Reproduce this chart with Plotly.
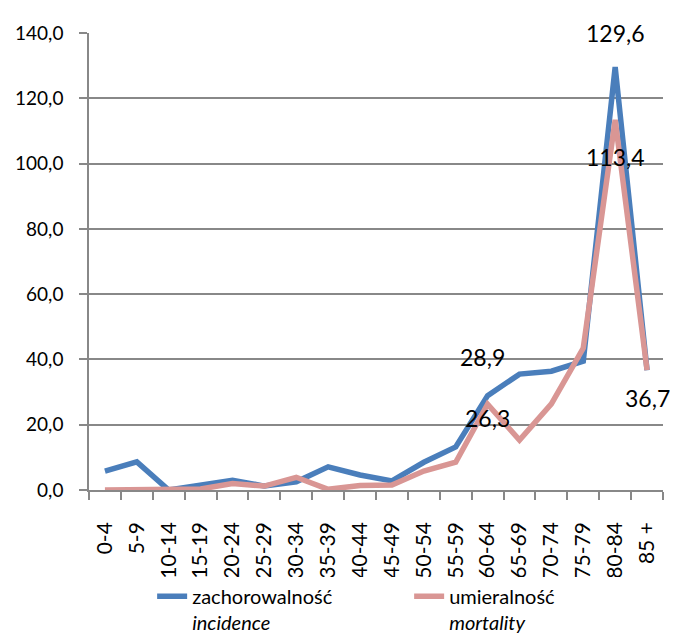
import plotly.graph_objects as go

categories = ["0-4", "5-9", "10-14", "15-19", "20-24", "25-29", "30-34", "35-39",
              "40-44", "45-49", "50-54", "55-59", "60-64", "65-69", "70-74",
              "75-79", "80-84", "85 +"]
incidence = [5.8, 8.6, 0.0, 1.3, 3.0, 1.2, 2.5, 7.1, 4.6, 2.8, 8.5, 13.2,
             28.9, 35.5, 36.4, 39.5, 129.6, 36.7]
mortality = [0.0, 0.0, 0.0, 0.3, 2.0, 1.2, 3.9, 0.2, 1.4, 1.5, 5.8, 8.5,
             26.3, 15.3, 26.4, 43.5, 113.4, 36.7]
name_inc = "zachorowalność<br><i>incidence</i>"
name_mor = "umieralność<br><i>mortality</i>"
y_ticks = [0, 20, 40, 60, 80, 100, 120, 140]

# labelled points: (series values, category index, yshift, xshift)
labels = [
    (incidence, 16, 34, 0),
    (incidence, 12, 39, -5),
    (mortality, 16, -37, 0),
    (mortality, 12, -14, 0),
    (mortality, 17, -28, 0),
]

FONT = "Lato, Carlito, Calibri, sans-serif"
BLUE = "#4A7EBB"
PINK = "#D99694"

fig = go.Figure()
fig.add_trace(go.Scatter(x=categories, y=incidence, mode="lines", name=name_inc,
                         line=dict(color=BLUE, width=5.5)))
fig.add_trace(go.Scatter(x=categories, y=mortality, mode="lines", name=name_mor,
                         line=dict(color=PINK, width=5.5)))

for series, i, ys, xs in labels:
    fig.add_annotation(x=categories[i], y=series[i],
                       text=f"{series[i]:.1f}".replace(".", ","),
                       showarrow=False, yshift=ys, xshift=xs,
                       font=dict(size=23, color="black", family=FONT))

# page body has an 8px margin, so the figure is sized to the visible area
fig.update_layout(
    width=670, height=629,
    margin=dict(l=81, r=15, t=25, b=147, autoexpand=False),
    plot_bgcolor="white", paper_bgcolor="white",
    separators=", ",
    font=dict(family=FONT, size=20, color="black"),
    showlegend=True,
    legend=dict(orientation="h", x=0.11, xanchor="left", y=-0.19, yanchor="top",
                font=dict(size=20, family=FONT), valign="top",
                entrywidth=212, entrywidthmode="pixels", tracegroupgap=0),
)
fig.update_xaxes(type="category", range=[-0.5, 17.5], tickangle=-90,
                 showline=True, linecolor="#888888", linewidth=1.5,
                 ticks="outside", tickson="boundaries", ticklen=8,
                 tickcolor="#888888", tickwidth=1.5, automargin=False,
                 ticklabelstandoff=22,
                 showgrid=False, tickfont=dict(size=21))
fig.update_yaxes(range=[0, 140], tickvals=y_ticks, tickformat=".1f",
                 showline=True, linecolor="#888888", linewidth=1.5,
                 ticks="outside", ticklen=8, tickcolor="#888888", tickwidth=1.5,
                 showgrid=True, gridcolor="#888888", gridwidth=1.5, automargin=False,
                 ticklabelstandoff=12,
                 zeroline=False, tickfont=dict(size=19))

fig.write_html("out.html")
